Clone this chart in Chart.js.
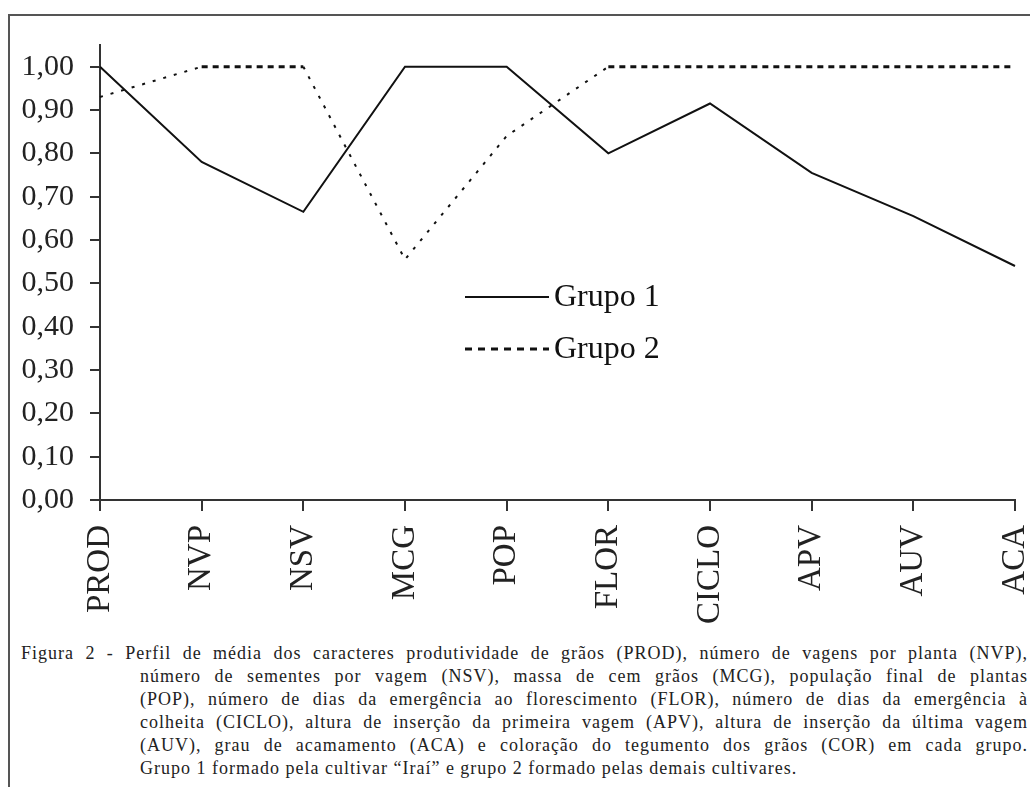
<!DOCTYPE html>
<html lang="pt">
<head>
<meta charset="utf-8">
<script src="https://cdn.jsdelivr.net/npm/chart.js@4.4.1/dist/chart.umd.min.js"></script>
<style>
  html, body { margin: 0; padding: 0; background: #fff; }
  body { width: 1030px; height: 787px; position: relative; overflow: hidden; }
  .moldura {
    position: absolute; left: 8px; top: 14px; width: 1100px; height: 820px;
    border-left: 2px solid #555; border-top: 2px solid #555;
  }
  .grafico { position: absolute; left: 0; top: 0; width: 1030px; height: 640px; }
  .legenda-fig {
    position: absolute; left: 21px; top: 642px; width: 1007px;
    font-family: "Liberation Serif", "Times New Roman", serif;
    font-size: 18px; line-height: 23px; color: #222; letter-spacing: 1px;
  }
  .legenda-fig div { text-align: justify; text-align-last: justify; white-space: nowrap; }
  .legenda-fig .ind { padding-left: 119px; }
  .legenda-fig .ult { text-align: left; text-align-last: left; }
</style>
</head>
<body>
<div class="moldura"></div>
<div class="grafico"><canvas id="chart-perfil" width="1030" height="640"></canvas></div>
<div class="legenda-fig">
  <div>Figura 2 - Perfil de média dos caracteres produtividade de grãos (PROD), número de vagens por planta (NVP),</div>
  <div class="ind">número de sementes por vagem (NSV), massa de cem grãos (MCG), população final de plantas</div>
  <div class="ind">(POP), número de dias da emergência ao florescimento (FLOR), número de dias da emergência à</div>
  <div class="ind">colheita (CICLO), altura de inserção da primeira vagem (APV), altura de inserção da última vagem</div>
  <div class="ind">(AUV), grau de acamamento (ACA) e coloração do tegumento dos grãos (COR) em cada grupo.</div>
  <div class="ind ult">Grupo 1 formado pela cultivar “Iraí” e grupo 2 formado pelas demais cultivares.</div>
</div>

<script>
// dados
const CARACTERES = ['PROD', 'NVP', 'NSV', 'MCG', 'POP', 'FLOR', 'CICLO', 'APV', 'AUV', 'ACA'];
const GRUPO_1    = [1.00, 0.78, 0.665, 1.00, 1.00, 0.80, 0.915, 0.755, 0.655, 0.54];
const GRUPO_2    = [0.93, 1.00, 1.00, 0.555, 0.84, 1.00, 1.00, 1.00, 1.00, 1.00];
const NOMES      = ['Grupo 1', 'Grupo 2'];

const FONTE = '"Liberation Serif", "Times New Roman", serif';
const COR_EIXO = '#333';

// legenda desenhada dentro da área do gráfico
const legendaInterna = {
  id: 'legendaInterna',
  afterDatasetsDraw(chart) {
    const ctx = chart.ctx;
    const itens = [
      { y: 297, dash: [],     width: 2 },
      { y: 349, dash: [7, 6], width: 3 },
    ];
    ctx.save();
    ctx.font = '32px ' + FONTE;
    ctx.fillStyle = '#111';
    ctx.textBaseline = 'middle';
    itens.forEach((it, i) => {
      ctx.beginPath();
      ctx.setLineDash(it.dash);
      ctx.lineWidth = it.width;
      ctx.strokeStyle = '#111';
      ctx.moveTo(465, it.y);
      ctx.lineTo(549, it.y);
      ctx.stroke();
      ctx.fillText(chart.data.datasets[i].label, 554, it.y + 1);
    });
    ctx.restore();
  },
};

const fmt = v => v.toFixed(2).replace('.', ',');

new Chart(document.getElementById('chart-perfil'), {
  type: 'line',
  data: {
    labels: CARACTERES,
    datasets: [
      {
        label: NOMES[0],
        data: GRUPO_1,
        borderColor: '#111',
        borderWidth: 2,
        pointRadius: 0,
        tension: 0,
      },
      {
        label: NOMES[1],
        data: GRUPO_2,
        borderColor: '#111',
        borderWidth: 2,
        pointRadius: 0,
        tension: 0,
        segment: {
          borderDash: c => (c.p0.parsed.y === c.p1.parsed.y ? [6, 5] : [3, 8]),
          borderWidth: c => (c.p0.parsed.y === c.p1.parsed.y ? 3 : 2),
        },
      },
    ],
  },
  options: {
    responsive: false,
    animation: false,
    layout: { padding: { top: 45, right: 0, left: 0, bottom: 0 } },
    plugins: {
      legend: { display: false },
      tooltip: { enabled: false },
    },
    scales: {
      x: {
        grid: { drawOnChartArea: false, drawTicks: true, tickLength: 11, color: COR_EIXO, lineWidth: 2 },
        border: { display: true, color: COR_EIXO, width: 2 },
        ticks: {
          color: '#222',
          font: { family: FONTE, size: 33 },
          minRotation: 90,
          maxRotation: 90,
          padding: 14,
          autoSkip: false,
        },
        afterFit: s => { s.height = 140; s.paddingLeft = 0; s.paddingRight = 15; },
      },
      y: {
        min: 0,
        max: 1.05,
        grid: { drawOnChartArea: false, drawTicks: true, tickLength: 10, color: COR_EIXO, lineWidth: 2 },
        border: { display: true, color: COR_EIXO, width: 2 },
        ticks: {
          stepSize: 0.1,
          includeBounds: false,
          color: '#222',
          font: { family: FONTE, size: 30 },
          padding: 16,
          callback: v => fmt(v),
        },
        afterFit: s => { s.width = 100; },
      },
    },
  },
  plugins: [legendaInterna],
});
</script>
</body>
</html>
